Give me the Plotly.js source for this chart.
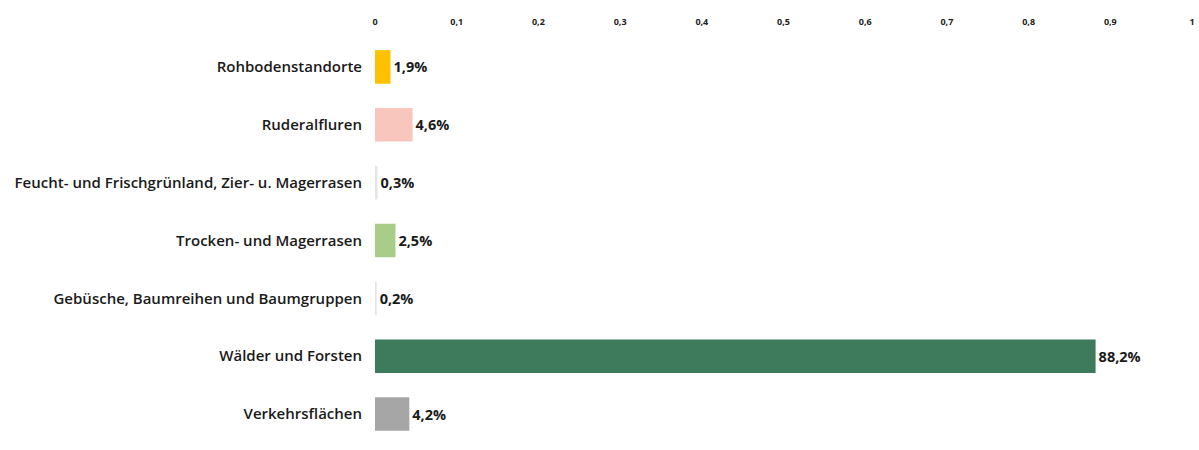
<!DOCTYPE html>
<html><head><meta charset="utf-8">
<script src="https://cdn.plot.ly/plotly-3.0.1.min.js"></script>
<style>html,body{margin:0;padding:0;background:#fff;}</style>
</head><body>
<div id="chart" style="width:1199px;height:450px;"></div>
<script>
const categories = [
  "Rohbodenstandorte",
  "Ruderalfluren",
  "Feucht- und Frischgrünland, Zier- u. Magerrasen",
  "Trocken- und Magerrasen",
  "Gebüsche, Baumreihen und Baumgruppen",
  "Wälder und Forsten",
  "Verkehrsflächen"
];
const values = [0.019, 0.046, 0.003, 0.025, 0.002, 0.882, 0.042];
const valueLabels = ["1,9%", "4,6%", "0,3%", "2,5%", "0,2%", "88,2%", "4,2%"];
const barColors = ["#FFC000", "#F8C6BC", "#E4E4E4", "#A9CC88", "#E4E4E4", "#3E7A5C", "#A6A6A6"];
const tickVals = [0, 0.1, 0.2, 0.3, 0.4, 0.5, 0.6, 0.7, 0.8, 0.9, 1];
const tickText = ["0", "0,1", "0,2", "0,3", "0,4", "0,5", "0,6", "0,7", "0,8", "0,9", "1"];

const trace = {
  type: "bar",
  orientation: "h",
  y: categories,
  x: values,
  text: valueLabels,
  textposition: "outside",
  cliponaxis: false,
  textfont: {family: "'Open Sans', 'Noto Sans', sans-serif", size: 14.5, color: "#1a1a1a", weight: "bold"},
  marker: {color: barColors},
  width: 0.58,
  hoverinfo: "none"
};

const layout = {
  width: 1199, height: 450,
  margin: {l: 375, r: 7, t: 38, b: 7},
  paper_bgcolor: "#fff", plot_bgcolor: "#fff",
  showlegend: false,
  font: {family: "'Open Sans', 'Noto Sans', sans-serif", color: "#222"},
  xaxis: {
    side: "top",
    range: [0, 1],
    tickvals: tickVals,
    ticktext: tickText,
    showgrid: false, zeroline: false, showline: false,
    ticks: "",
    ticklabelstandoff: 10,
    tickfont: {size: 9, color: "#222", weight: "bold"}
  },
  yaxis: {
    type: "category",
    autorange: "reversed",
    showgrid: false, zeroline: false, showline: false,
    ticks: "",
    ticklabelstandoff: 12,
    tickfont: {size: 15, color: "#1a1a1a", weight: 600}
  }
};

Plotly.newPlot("chart", [trace], layout, {displayModeBar: false, staticPlot: true});
</script>
</body></html>
